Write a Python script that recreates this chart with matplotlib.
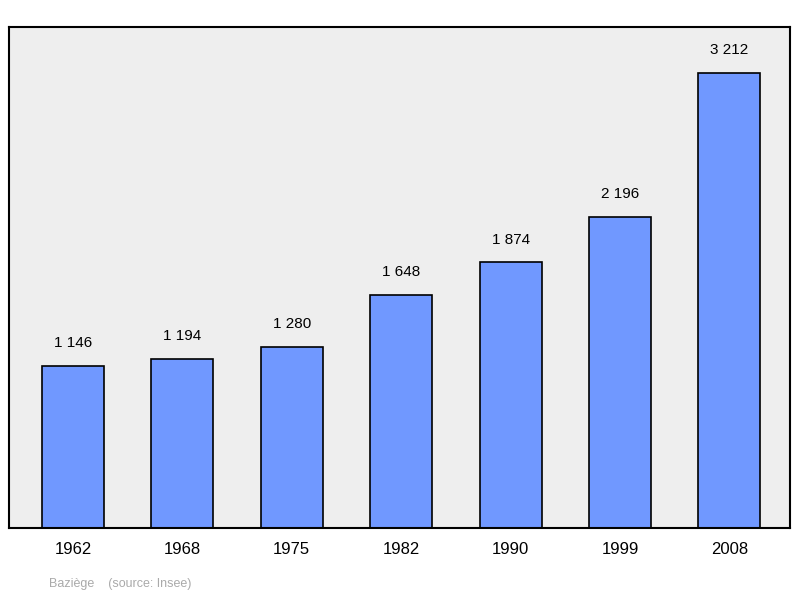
import matplotlib.pyplot as plt

years = ["1962", "1968", "1975", "1982", "1990", "1999", "2008"]
population = [1146, 1194, 1280, 1648, 1874, 2196, 3212]
labels = ["1 146", "1 194", "1 280", "1 648", "1 874", "2 196", "3 212"]

plt.rcParams['font.family'] = ['Liberation Sans', 'DejaVu Sans']

fig = plt.figure(figsize=(8, 5.98), dpi=100)
ax = fig.add_axes([9/800, 1 - 528/598, 781/800, 501/598])
ax.set_facecolor('#eeeeee')

x = range(len(years))
ax.bar(x, population, width=0.567, color='#7098ff', edgecolor='black', linewidth=1.2)
for i, (v, t) in enumerate(zip(population, labels)):
    ax.text(i, v + 110, t, ha='center', va='bottom', fontsize=11)

ax.set_xlim(-0.585, 6.554)
ax.set_ylim(0, 3536)
ax.set_yticks([])
ax.set_xticks(list(x))
ax.set_xticklabels(years, fontsize=12)
ax.tick_params(axis='x', length=0, pad=10)
for s in ax.spines.values():
    s.set_linewidth(1.5)

fig.text(49/800, 1 - 584/598, "Baziège    (source: Insee)", fontsize=9, color='#aaaaaa', va='center')

fig.savefig("out.png", dpi=100)
